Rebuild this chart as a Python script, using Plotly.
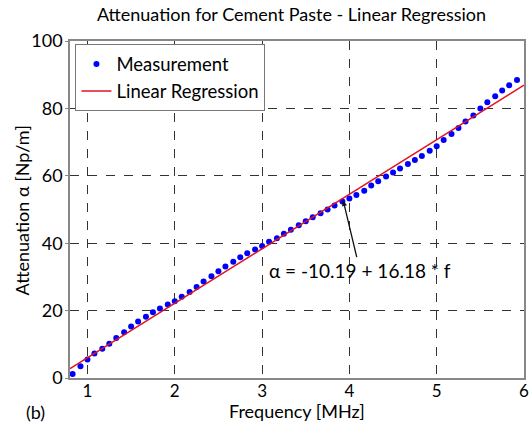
import plotly.graph_objects as go

freq = [0.83, 0.92, 1.00, 1.08, 1.17, 1.25, 1.33, 1.42, 1.50, 1.58, 1.67, 1.75, 1.83, 1.92,
        2.00, 2.08, 2.17, 2.25, 2.33, 2.42, 2.50, 2.58, 2.67, 2.75, 2.83, 2.92,
        3.00, 3.08, 3.17, 3.25, 3.33, 3.42, 3.50, 3.58, 3.67, 3.75, 3.83, 3.92,
        4.00, 4.08, 4.17, 4.25, 4.33, 4.42, 4.50, 4.58, 4.67, 4.75, 4.83, 4.92,
        5.00, 5.08, 5.17, 5.25, 5.33, 5.42, 5.50, 5.58, 5.67, 5.75, 5.83, 5.92]
attenuation = [1.2, 3.5, 5.5, 7.3, 8.7, 10.2, 11.9, 13.6, 15.3, 16.8, 18.2, 19.5, 20.6, 21.8,
               22.8, 24.1, 25.5, 27.0, 28.6, 30.2, 31.7, 33.1, 34.5, 35.8, 37.0, 38.1,
               39.2, 40.4, 41.5, 42.8, 44.0, 45.3, 46.5, 47.7, 48.9, 50.0, 51.2, 52.4,
               53.3, 54.3, 55.6, 57.1, 58.4, 59.8, 61.0, 62.2, 63.5, 64.7, 65.9, 67.4,
               68.8, 70.6, 72.4, 74.2, 76.1, 77.9, 80.0, 81.8, 83.6, 85.3, 86.9, 88.4]
intercept = -10.19
slope = 16.18
line_x = [0.8, 6.0]
line_y = [intercept + slope * x for x in line_x]

x_ticks = [1, 2, 3, 4, 5, 6]
y_ticks = [0, 20, 40, 60, 80, 100]

FONT = "Lato"
INK = "#000000"

fig = go.Figure()
fig.add_trace(go.Scatter(x=freq, y=attenuation, mode="markers", name="Measurement",
                         marker=dict(color="#0000ff", size=6, line=dict(width=0))))
fig.add_trace(go.Scatter(x=line_x, y=line_y, mode="lines", name="Linear Regression",
                         line=dict(color="#e0141e", width=1.5)))

grid = dict(showgrid=True, gridcolor="#333333", griddash="dash", gridwidth=1,
            showline=True, linecolor="#888888", linewidth=1.5, mirror=True,
            zeroline=False, automargin=False)

fig.update_xaxes(range=[0.8, 6.0], tickvals=x_ticks, ticks="", ticklabelstandoff=-3,
                 tickfont=dict(family=FONT, size=17, color=INK), **grid)
fig.update_yaxes(range=[0, 100], tickvals=y_ticks, ticks="outside", ticklen=3,
                 tickcolor="#888888", ticklabelstandoff=-1,
                 tickfont=dict(family=FONT, size=18, color=INK), **grid)

# axis titles
fig.add_annotation(x=0.5, y=-0.099, xref="paper", yref="paper", text="Frequency [MHz]",
                   showarrow=False, xanchor="center", yanchor="middle",
                   font=dict(family=FONT, size=18, color=INK))
fig.add_annotation(x=-0.106, y=0.5, xref="paper", yref="paper", text="Attenuation α [Np/m]",
                   showarrow=False, xanchor="center", yanchor="middle", textangle=-90,
                   font=dict(family=FONT, size=18, color=INK))

fig.add_annotation(x=3.93, y=52.6, xref="x", yref="y", ax=4.12, ay=32.0, axref="x", ayref="y",
                   text="α = -10.19 + 16.18 * f", showarrow=True, arrowhead=2, arrowsize=0.8,
                   arrowwidth=1.3, arrowcolor="#111111",
                   font=dict(family=FONT, size=19, color=INK))
fig.add_annotation(x=-0.077, y=-0.1, xref="paper", yref="paper", text="(b)", showarrow=False,
                   xanchor="center", yanchor="middle", font=dict(family=FONT, size=18, color=INK))

fig.update_layout(
    width=530, height=425,
    margin=dict(l=70, r=6, t=41, b=47),
    paper_bgcolor="white", plot_bgcolor="white",
    title=dict(text="Attenuation for Cement Paste - Linear Regression", x=0.55, xanchor="center",
               y=0.965, yanchor="middle", font=dict(family=FONT, size=18, color=INK)),
    legend=dict(x=0.012, y=0.99, xanchor="left", yanchor="top", bgcolor="white",
                bordercolor="#777777", borderwidth=1, font=dict(family=FONT, size=18.5, color=INK),
                tracegroupgap=0, itemwidth=30),
    showlegend=True,
)

fig.write_html("out.html")
